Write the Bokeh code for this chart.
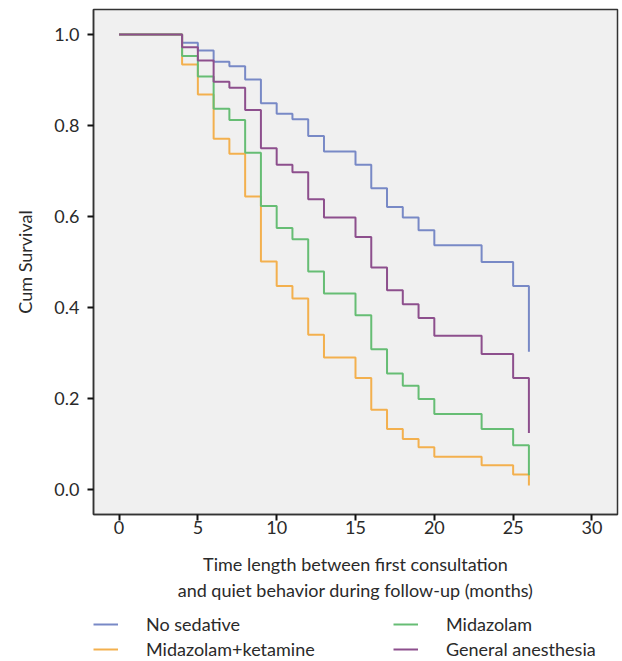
from bokeh.plotting import figure
from bokeh.layouts import column
from bokeh.models import (ColumnDataSource, Range1d, FixedTicker, Legend, LegendItem,
                          CustomJSTickFormatter)
from bokeh.embed import file_html
from bokeh.resources import INLINE

# Months at which survival steps occur, and the cumulative survival after each step
months_no_sed = [0, 4, 5, 6, 7, 8, 9, 10, 11, 12, 13, 15, 16, 17, 18, 19, 20, 23, 25, 26]
surv_no_sed = [1.0, 0.982, 0.965, 0.940, 0.930, 0.901, 0.849, 0.826, 0.814, 0.777, 0.743,
               0.714, 0.662, 0.621, 0.598, 0.570, 0.537, 0.500, 0.447, 0.303]

months_mid = [0, 4, 5, 6, 7, 8, 9, 10, 11, 12, 13, 15, 16, 17, 18, 19, 20, 23, 25, 26]
surv_mid = [1.0, 0.953, 0.908, 0.837, 0.812, 0.740, 0.623, 0.575, 0.550, 0.479, 0.431,
            0.383, 0.308, 0.255, 0.228, 0.199, 0.166, 0.133, 0.097, 0.031]

months_mk = [0, 4, 5, 6, 7, 8, 9, 10, 11, 12, 13, 15, 16, 17, 18, 19, 20, 23, 25, 26]
surv_mk = [1.0, 0.934, 0.868, 0.771, 0.738, 0.644, 0.501, 0.447, 0.420, 0.340, 0.290,
           0.245, 0.175, 0.133, 0.111, 0.093, 0.072, 0.053, 0.033, 0.009]

months_ga = [0, 4, 5, 6, 7, 8, 9, 10, 11, 12, 13, 15, 16, 17, 18, 19, 20, 23, 25, 26]
surv_ga = [1.0, 0.972, 0.943, 0.896, 0.883, 0.834, 0.750, 0.714, 0.697, 0.638, 0.598,
           0.555, 0.488, 0.438, 0.407, 0.377, 0.338, 0.298, 0.245, 0.124]

x_ticks = [0, 5, 10, 15, 20, 25, 30]
y_ticks = [0.0, 0.2, 0.4, 0.6, 0.8, 1.0]

series = [
    ("No sedative", months_no_sed, surv_no_sed, "#7889c6"),
    ("Midazolam+ketamine", months_mk, surv_mk, "#f3b04e"),
    ("Midazolam", months_mid, surv_mid, "#66bd74"),
    ("General anesthesia", months_ga, surv_ga, "#8d4f8d"),
]

FONT = "Lato"
TXT = "#2a2a2a"

# ---------------- main plot ----------------
p = figure(width=621, height=613, output_backend="svg", toolbar_location=None,
           x_range=Range1d(-1.62, 31.62), y_range=Range1d(-0.055, 1.055),
           min_border_left=93, min_border_right=4, min_border_top=9, min_border_bottom=99)

p.background_fill_color = "#f0f0f0"
p.border_fill_color = "white"
p.outline_line_color = "#333333"
p.outline_line_width = 1.5
p.grid.visible = False

sources = []
for name, xs, ys, col in series:
    src = ColumnDataSource(dict(x=xs, y=ys))
    sources.append(src)
    p.step(x="x", y="y", source=src, mode="after", line_color=col, line_width=2)

for ax in (p.xaxis[0], p.yaxis[0]):
    ax.axis_line_color = "#333333"
    ax.axis_line_width = 1.5
    ax.major_tick_line_color = "#111111"
    ax.major_tick_line_width = 2
    ax.major_tick_out = 6
    ax.major_tick_in = 0
    ax.minor_tick_line_color = None
    ax.major_label_text_font = FONT
    ax.major_label_text_font_size = "18px"
    ax.major_label_text_color = TXT
    ax.axis_label_text_font = FONT
    ax.axis_label_text_font_size = "18px"
    ax.axis_label_text_font_style = "normal"
    ax.axis_label_text_color = TXT

p.xaxis.ticker = FixedTicker(ticks=x_ticks)
p.yaxis.ticker = FixedTicker(ticks=y_ticks)
p.yaxis.formatter = CustomJSTickFormatter(code="return tick.toFixed(1);")
p.xaxis.major_label_standoff = 0
p.yaxis.major_label_standoff = 8
p.xaxis.axis_label = "Time length between first consultation\nand quiet behavior during follow-up (months)"
p.xaxis.axis_label_standoff = 16
p.yaxis.axis_label = "Cum Survival"
p.yaxis.axis_label_standoff = 15

# ---------------- legend strip ----------------
# the same series are drawn here outside the visible range, only to feed the legend glyphs
lg = figure(width=621, height=47, output_backend="svg", toolbar_location=None,
            x_range=Range1d(-200, -199), y_range=Range1d(-200, -199),
            x_axis_location=None, y_axis_location=None,
            min_border_left=0, min_border_right=0, min_border_top=0, min_border_bottom=0)
lg.grid.visible = False
lg.outline_line_color = None
lg.background_fill_color = "white"
lg.border_fill_color = "white"

items = []
for (name, xs, ys, col), src in zip(series, sources):
    r = lg.step(x="x", y="y", source=src, mode="after", line_color=col, line_width=2)
    items.append(LegendItem(label=name, renderers=[r]))

common = dict(label_text_font=FONT, label_text_font_size="18px", label_text_color=TXT,
              glyph_width=25, glyph_height=12, label_standoff=28,
              label_height=20, spacing=3, padding=0, margin=0,
              border_line_alpha=0, background_fill_alpha=0)
leg_left = Legend(items=items[:2], location=(0, 0), **common)
leg_right = Legend(items=items[2:], location=(300, 0), **common)
lg.add_layout(leg_left, "center")
lg.add_layout(leg_right, "center")

layout = column(p, lg, spacing=0)
open("out.html", "w").write(file_html(layout, INLINE))
